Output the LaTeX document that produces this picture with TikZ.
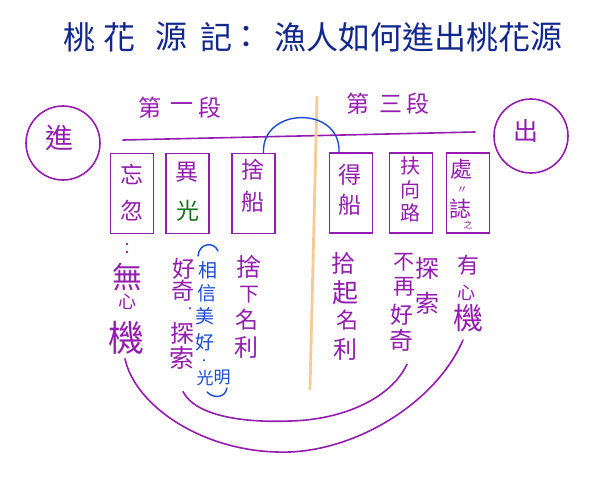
\documentclass[tikz,border=0pt]{standalone}
\usepackage{fontspec}
\newfontfamily\cjk{Noto Sans CJK TC}
\definecolor{pur}{RGB}{148,28,176}
\definecolor{navy}{RGB}{18,40,140}
\definecolor{bl}{RGB}{25,75,215}
\definecolor{gr}{RGB}{20,115,25}
\definecolor{orn}{RGB}{246,204,150}
\begin{document}
\begin{tikzpicture}[x=1pt,y=-1pt,
  ch/.style={font=\cjk\fontsize{#1}{#1}\selectfont, inner sep=0pt, text=pur},
  ch/.default=24,
  ttl/.style={font=\cjk\fontsize{32}{32}\selectfont, inner sep=0pt, text=navy},
  bx/.style={draw=pur, line width=1.6pt, minimum width=43pt, minimum height=80pt, inner sep=0pt},
  circ/.style={draw=pur, line width=1.6pt, circle, minimum size=74pt, inner sep=0pt},
  pline/.style={draw=pur, line width=1.6pt, line cap=round},
  bline/.style={draw=bl, line width=1.4pt, line cap=round},
  bt/.style={font=\cjk\fontsize{#1}{#1}\selectfont, inner sep=0pt, text=bl},
  bt/.default=19
]
\useasboundingbox (0,0) rectangle (600,479);
\fill[white] (0,0) rectangle (600,479);

% title
\foreach \c/\x [count=\i] in {桃/79,花/119,源/171,記/216,：/246,漁/290,人/322,如/354,何/386,進/418,出/450,桃/482,花/514,源/546}
  \node[ttl] (t\i) at (\x,37) {\c};

% section labels
\node[ch=23] (s1a) at (150,108) {第};
\node[ch=23] (s1b) at (182,108) {一};
\node[ch=23] (s1c) at (210,108) {段};
\node[ch=23] (s3a) at (358,104) {第};
\node[ch=23] (s3b) at (391,104) {三};
\node[ch=23] (s3c) at (418,104) {段};

% divider line
\coordinate (ol) at (123,140);
\coordinate (or) at (475,132);
\draw[pline] (ol) -- (or);
\coordinate (vt) at (317,97);
\coordinate (vb) at (310,389);
\draw[draw=orn, line width=2.8pt, line cap=round] (vt) -- (vb);

% circles
\node[circ] (jin) at (63,143) {};
\node[ch=28] (jint) at (59,138) {進};
\node[circ] (chu) at (531,136) {};
\node[ch=25] (chut) at (526,131) {出};

% boxes
\node[bx] (b1) at (132,193.5) {};
\node[bx] (b2) at (187.5,193.5) {};
\node[bx] (b3) at (253.5,193.5) {};
\node[bx] (b4) at (351,193) {};
\node[bx] (b5) at (411,193) {};
\node[bx] (b6) at (468,193) {};

\node[ch=23] (b1a) at (132,174) {忘};
\node[ch=23] (b1b) at (132,211) {忽};
\node[ch=23] (b2a) at (187,172) {異};
\node[ch=23,text=gr] (b2b) at (188,211) {光};
\node[ch=23] (b3a) at (253,170) {捨};
\node[ch=23] (b3b) at (253,202) {船};
\node[ch=23] (b4a) at (350,175) {得};
\node[ch=23] (b4b) at (350,205) {船};
\node[ch=20] (b5a) at (410,166) {扶};
\node[ch=20] (b5b) at (410,190) {向};
\node[ch=20] (b5c) at (410,213) {路};
\node[ch=22] (b6a) at (461,169) {處};
\node[ch=11] (b6b) at (462,190) {〃};
\node[ch=22] (b6c) at (460,209) {誌};
\node[ch=9] (b6d) at (468,225) {之};

% blue arc between boxes
\draw[bline] ([xshift=10pt]b3.north) .. controls +(-2,-46) and +(2,-47) .. ([xshift=-12pt]b4.north);

% column 1
\node[ch=16] (c1a) at (127,249) {：};
\node[ch=30] (c1b) at (127,277) {無};
\node[ch=18] (c1c) at (127,302) {心};
\node[ch=36] (c1d) at (126,338) {機};

% column 2
\node[ch=23] (c2a) at (184,269) {好};
\node[ch=23] (c2b) at (183,291) {奇};
\node[ch=10] (c2c) at (190,310) {·};
\node[ch=24] (c2d) at (182,333) {探};
\node[ch=25] (c2e) at (182,358) {索};

% blue annotation
\coordinate (bq1) at (198,256);
\coordinate (bq2) at (218,251);
\draw[bline] (bq1) .. controls (199,243) and (214,241) .. (bq2);
\node[bt] (n1) at (208,270) {相};
\node[bt] (n2) at (207,293) {信};
\node[bt] (n3) at (205,316) {美};
\node[bt] (n4) at (205,342) {好};
\node[bt=10] (n5) at (204,362) {·};
\node[bt=17] (n6) at (205,378) {光};
\node[bt=17] (n7) at (222,377) {明};
\coordinate (bq3) at (227,388);
\coordinate (bq4) at (207,392);
\draw[bline] (bq3) .. controls (225,398) and (214,399) .. (bq4);

% column 3
\node[ch=25] (c3a) at (249,267) {捨};
\node[ch=20] (c3b) at (249,295) {下};
\node[ch=23] (c3c) at (247,320) {名};
\node[ch=24] (c3d) at (246,347) {利};

% column 4
\node[ch=24] (c4a) at (343,263) {拾};
\node[ch=26] (c4b) at (345,293) {起};
\node[ch=22] (c4c) at (347,320) {名};
\node[ch=24] (c4d) at (345,349) {利};

% column 5
\node[ch=21] (c5a) at (404,262) {不};
\node[ch=22] (c5b) at (404,287) {再};
\node[ch=23] (c5c) at (402,315) {好};
\node[ch=24] (c5d) at (401,340) {奇};
\node[ch=24] (c5e) at (427,268) {探};
\node[ch=24] (c5f) at (427,303) {索};

% column 6
\node[ch=22] (c6a) at (468,265) {有};
\node[ch=18] (c6b) at (466,293) {心};
\node[ch=30] (c6c) at (468,318) {機};

% bottom arcs
\draw[pline] ([xshift=-1pt,yshift=-4pt]c1d.south) .. controls (135,405) and (200,450) .. (277,452)
  .. controls (350,455) and (435,405) .. ([xshift=-5pt,yshift=-8pt]c6c.south);
\draw[pline] ([xshift=1pt,yshift=-22pt]c2e.south) .. controls (195,415) and (240,423) .. (290,421)
  .. controls (340,420) and (390,400) .. ([xshift=6pt,yshift=-13pt]c5d.south);
\end{tikzpicture}
\end{document}
